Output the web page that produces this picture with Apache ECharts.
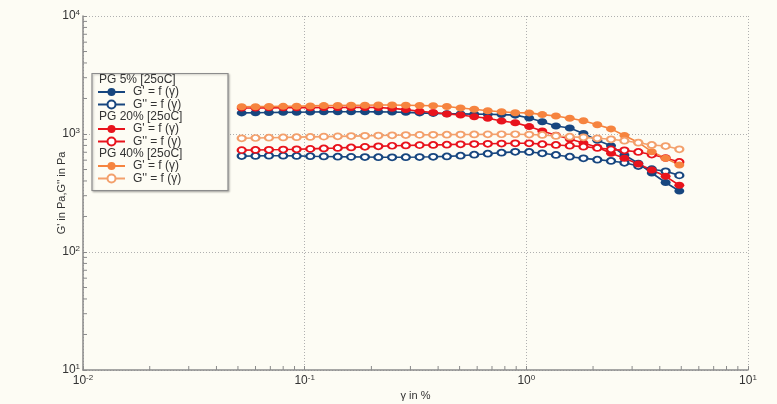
<!DOCTYPE html>
<html>
<head>
<meta charset="utf-8">
<script src="https://cdn.jsdelivr.net/npm/echarts@6/dist/echarts.min.js"></script>
<style>
  html, body { margin: 0; padding: 0; background: #fdfcf4; }
  #chart { width: 777px; height: 404px; }
</style>
</head>
<body>
<div id="chart"></div>
<script>
// Strain amplitude steps (gamma, %)
const strain = [0.052, 0.060, 0.069, 0.080, 0.092, 0.106, 0.122, 0.141, 0.162, 0.187, 0.215,
  0.248, 0.286, 0.330, 0.380, 0.438, 0.505, 0.582, 0.670, 0.773, 0.891, 1.03, 1.18, 1.36,
  1.57, 1.81, 2.09, 2.41, 2.77, 3.20, 3.68, 4.25, 4.90];

// PG 5% [25oC]
const pg5Storage = [1510, 1515, 1520, 1525, 1530, 1535, 1540, 1545, 1545, 1545, 1540, 1535,
  1525, 1510, 1495, 1485, 1480, 1475, 1470, 1460, 1445, 1367, 1270, 1170, 1124, 1010, 885,
  795, 664, 565, 467, 388, 329];
const pg5Loss = [650, 652, 655, 655, 652, 648, 645, 642, 640, 638, 636, 635, 636, 638, 641,
  646, 655, 668, 681, 695, 706, 704, 686, 664, 642, 622, 606, 591, 570, 535, 503, 483, 446];

// PG 20% [25oC]
const pg20Storage = [1660, 1662, 1665, 1668, 1670, 1672, 1675, 1678, 1680, 1680, 1675, 1650,
  1610, 1560, 1520, 1480, 1450, 1400, 1360, 1290, 1245, 1155, 1060, 975, 907, 839, 773, 686,
  622, 557, 495, 438, 368];
const pg20Loss = [730, 732, 735, 738, 742, 748, 755, 762, 770, 778, 786, 795, 800, 805, 808,
  812, 818, 822, 826, 830, 834, 834, 820, 807, 796, 781, 762, 741, 727, 704, 670, 626, 580];

// PG 40% [25oC]
const pg40Storage = [1700, 1705, 1710, 1715, 1720, 1730, 1740, 1745, 1750, 1755, 1760, 1760,
  1755, 1745, 1735, 1710, 1660, 1620, 1575, 1545, 1516, 1510, 1460, 1421, 1359, 1293, 1200,
  1105, 970, 848, 708, 622, 546];
const pg40Loss = [920, 925, 930, 935, 940, 945, 950, 955, 960, 965, 970, 975, 980, 983, 985,
  987, 989, 991, 993, 995, 995, 990, 981, 962, 949, 937, 920, 902, 877, 844, 807, 791, 742];

// Group headings and axis settings
const groups = ['PG 5% [25oC]', 'PG 20% [25oC]', 'PG 40% [25oC]'];
const xRange = [0.01, 10];
const yRange = [10, 10000];
const xMinorTicks = [0.02, 0.03, 0.04, 0.05, 0.06, 0.07, 0.08, 0.09,
  0.2, 0.3, 0.4, 0.5, 0.6, 0.7, 0.8, 0.9, 2, 3, 4, 5, 6, 7, 8, 9];
const yMinorTicks = [20, 30, 40, 50, 60, 70, 80, 90, 200, 300, 400, 500, 600, 700, 800, 900,
  2000, 3000, 4000, 5000, 6000, 7000, 8000, 9000];

const BLUE = '#17467f';
const RED = '#e8131c';
const ORANGE = '#f6843f';
const LIGHT_ORANGE = '#f3a06c';
const FONT = 'Liberation Sans';
const BG = '#fdfcf4';

const pairs = arr => strain.map((x, i) => [x, arr[i]]);

function curve(name, values, color, hollow) {
  return {
    name: name,
    type: 'line',
    data: pairs(values),
    symbol: hollow ? 'emptyCircle' : 'circle',
    symbolSize: hollow ? [8, 6] : [10, 7],
    showAllSymbol: true,
    lineStyle: { color: color, width: 1.6 },
    itemStyle: hollow
      ? { color: color, borderColor: color, borderWidth: 1.8 }
      : { color: color, borderWidth: 0 },
    emphasis: { disabled: true },
    z: 3
  };
}

const seriesDefs = [
  curve(groups[0] + " G'", pg5Storage, BLUE, false),
  curve(groups[0] + " G''", pg5Loss, BLUE, true),
  curve(groups[1] + " G'", pg20Storage, RED, false),
  curve(groups[1] + " G''", pg20Loss, RED, true),
  curve(groups[2] + " G'", pg40Storage, ORANGE, false),
  curve(groups[2] + " G''", pg40Loss, LIGHT_ORANGE, true)
];

// Short inward minor ticks at 2..9 of each decade
const minorTickSeries = [
  {
    type: 'custom',
    silent: true,
    data: xMinorTicks.map(v => [v, yRange[0]]),
    renderItem: (params, api) => {
      const p = api.coord([api.value(0), api.value(1)]);
      return { type: 'line', shape: { x1: p[0], y1: p[1], x2: p[0], y2: p[1] - 4 },
        style: { stroke: '#8a8a8a', lineWidth: 1 } };
    },
    z: 2
  },
  {
    type: 'custom',
    silent: true,
    data: yMinorTicks.map(v => [xRange[0], v]),
    renderItem: (params, api) => {
      const p = api.coord([api.value(0), api.value(1)]);
      return { type: 'line', shape: { x1: p[0], y1: p[1], x2: p[0] + 4, y2: p[1] },
        style: { stroke: '#8a8a8a', lineWidth: 1 } };
    },
    z: 2
  }
];

const powerLabel = v => '{b|10}{s|' + Math.round(Math.log10(v)) + '}';
const powerRich = {
  b: { fontSize: 12, color: '#333', fontFamily: FONT },
  s: { fontSize: 8, color: '#333', fontFamily: FONT, verticalAlign: 'top', padding: [0, 0, 6, 0] }
};

const legendTops = [86, 123, 160];
const legends = groups.map((g, k) => ({
  orient: 'vertical',
  left: 97,
  top: legendTops[k],
  padding: 0,
  itemGap: 0.5,
  itemWidth: 27,
  itemHeight: 10,
  selectedMode: false,
  z: 10,
  data: [g + " G'", g + " G''"],
  formatter: name => name.endsWith("G''") ? "G'' = f (γ)" : "G' = f (γ)",
  textStyle: { fontSize: 12, color: '#333', fontFamily: FONT, lineHeight: 12, padding: [0, 0, 0, 3] }
}));

const chart = echarts.init(document.getElementById('chart'), null, { renderer: 'canvas' });
chart.setOption({
  backgroundColor: BG,
  animation: false,
  grid: { left: 83, right: 29, top: 16, bottom: 34, containLabel: false, outerBoundsMode: 'none' },
  xAxis: {
    type: 'log',
    logBase: 10,
    min: xRange[0],
    max: xRange[1],
    name: 'γ in %',
    nameLocation: 'middle',
    nameGap: 20,
    nameMoveOverlap: false,
    nameTextStyle: { fontSize: 11, color: '#333', fontFamily: FONT },
    axisLine: { lineStyle: { color: '#8a8a8a', width: 1.5 } },
    axisTick: { inside: true, length: 4, lineStyle: { color: '#8a8a8a' } },
    axisLabel: { formatter: powerLabel, rich: powerRich, margin: 4 },
    splitLine: { show: true, lineStyle: { color: '#b0b0b0', type: [1, 2], width: 1 } }
  },
  yAxis: {
    type: 'log',
    logBase: 10,
    min: yRange[0],
    max: yRange[1],
    name: "G' in Pa,G'' in Pa",
    nameLocation: 'middle',
    nameGap: 16,
    nameMoveOverlap: false,
    nameTextStyle: { fontSize: 11, color: '#333', fontFamily: FONT },
    axisLine: { lineStyle: { color: '#8a8a8a', width: 1.5 } },
    axisTick: { inside: true, length: 4, lineStyle: { color: '#8a8a8a' } },
    axisLabel: { formatter: powerLabel, rich: powerRich, margin: 3 },
    splitLine: { show: true, lineStyle: { color: '#b0b0b0', type: [1, 2], width: 1 } }
  },
  legend: legends,
  graphic: [
    {
      type: 'rect',
      shape: { x: 92, y: 73.5, width: 136, height: 117 },
      style: { fill: BG, stroke: '#8c8c8c', lineWidth: 1.2,
        shadowBlur: 2, shadowOffsetX: 1, shadowOffsetY: 1, shadowColor: 'rgba(0,0,0,0.25)' },
      z: 1
    },
    ...groups.map((g, k) => ({
      type: 'text',
      left: 99,
      top: [73.5, 110.5, 147.5][k],
      style: { text: g, fontSize: 12, fill: '#333', fontFamily: FONT },
      z: 6
    }))
  ],
  series: [...minorTickSeries, ...seriesDefs]
});
</script>
</body>
</html>
